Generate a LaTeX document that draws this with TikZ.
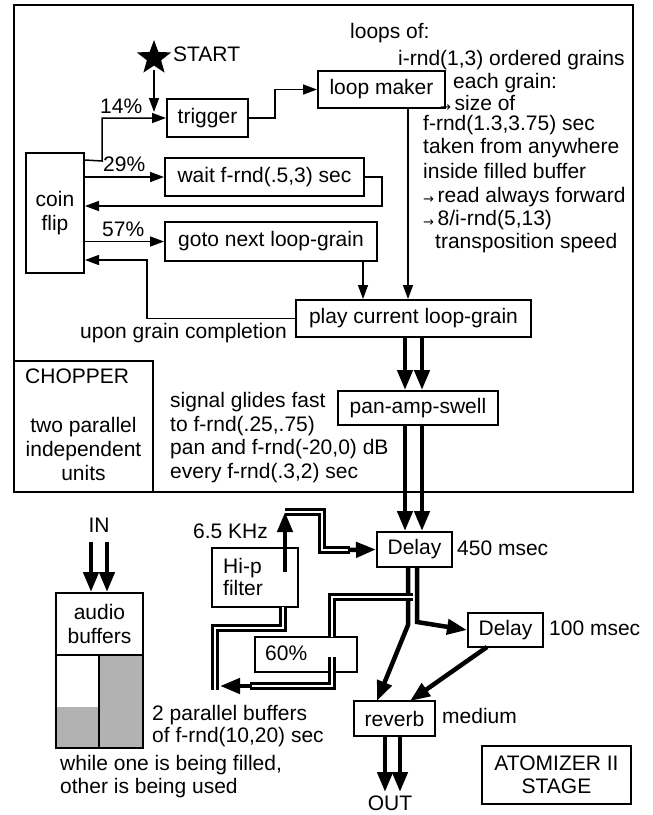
\documentclass[tikz,border=0pt]{standalone}
\usepackage{fontspec}
\setmainfont{Liberation Sans}
\newfontfamily\arrfont{DejaVu Sans}
\usetikzlibrary{arrows.meta,shapes.geometric,calc}
\newcommand\smallarr{\raisebox{-1.5pt}{\arrfont\fontsize{13}{13}\selectfont →}}
\definecolor{bufgray}{RGB}{178,178,178}
\begin{document}
\begin{tikzpicture}[x=1pt,y=-1pt,
  every node/.style={font=\fontsize{21}{23.5}\selectfont},
  box/.style={draw, line width=2pt, inner sep=0pt, align=center, fill=white},
  txt/.style={inner sep=0pt, anchor=west, text height=15pt, text depth=4.5pt},
  ctxt/.style={inner sep=0pt, text height=15pt, text depth=4.5pt},
  thinarr/.style={line width=1.5pt, -{Triangle[length=14pt,width=10pt]}},
  fat/.style={line width=4.5pt, -{Triangle[length=20pt,width=15pt]}},
  dbl/.style={double, line width=2.5pt, double distance=2.5pt, line join=miter},
]
\useasboundingbox (0,0) rectangle (653,815);
\fill[white] (0,0) rectangle (653,815);

% frames
\draw[line width=2.2pt] (14,5) rectangle (633,492);
\draw[line width=2.2pt] (14,361) rectangle (153,492);

% top boxes
\node[star, star points=5, star point ratio=2.4, fill, inner sep=0pt, minimum size=36pt] (star) at (154,58) {};
\node[box, minimum width=81pt, minimum height=38pt] (trigger) at (207.5,118) {trigger};
\node[box, minimum width=127pt, minimum height=37pt] (loop) at (381.5,89.5) {loop maker};
\node[box, minimum width=199pt, minimum height=38pt] (wait) at (264.5,177) {wait f-rnd(.5,3) sec};
\node[box, minimum width=212pt, minimum height=39pt] (goto) at (271,241.5) {goto next loop-grain};
\node[box, minimum width=58pt, minimum height=120pt] (coin) at (55,213) {coin\\flip};
\node[box, minimum width=235pt, minimum height=37pt] (play) at (413.5,318.5) {play current loop-grain};
\node[box, minimum width=160pt, minimum height=34pt] (pan) at (418,408) {pan-amp-swell};

% top connectors
\coordinate (startbeg) at (154,70);
\coordinate (startend) at (154,112);
\draw[thinarr] (startbeg) -- (startend);
\coordinate (c14) at ($(coin.north east)+(0,8)$);
\draw[thinarr] (c14) -- (102,161) |- (trigger.west);
\draw[thinarr] (coin.east |- wait.west) -- (wait.west);
\coordinate (wret) at (382,206);
\draw[thinarr] (wait.east) -| (wret) -- (coin.east |- wret);
\draw[thinarr] (coin.east |- goto.west) -- (goto.west);
\coordinate (pret) at (147,260);
\draw[thinarr] (play.west) -| (pret) -- (coin.east |- pret);
\coordinate (tl) at (275,118);
\draw[thinarr] (trigger.east) -- (tl) |- (loop.west);
\coordinate (g1) at (363,261);
\draw[thinarr] (g1) -- (g1 |- play.north);
\coordinate (l1) at (408,108);
\draw[thinarr] (l1) -- (l1 |- play.north);
\coordinate (s1) at (405,0);
\coordinate (s2) at (422,0);
\draw[fat] (play.south -| s1) -- (pan.north -| s1);
\draw[fat] (play.south -| s2) -- (pan.north -| s2);

% top texts
\node[txt] (tstart) at (173,56) {START};
\node[txt] (t14) at (100,108) {14\%};
\node[txt] (t29) at (103,166) {29\%};
\node[txt] (t57) at (102,231) {57\%};
\node[txt] (tl1) at (350,33) {loops of:};
\node[txt] (tl2) at (398,60) {i-rnd(1,3) ordered grains};
\node[txt] (tl3) at (453,83) {each grain:};
\node[txt] (tl4) at (440,105) {\smallarr\,size of};
\node[txt] (tl5) at (423,125) {f-rnd(1.3,3.75) sec};
\node[txt] (tl6) at (423,148) {taken from anywhere};
\node[txt] (tl7) at (423,173) {inside filled buffer};
\node[txt] (tl8) at (423,197) {\smallarr\,read always forward};
\node[txt] (tl9) at (423,220) {\smallarr\,8/i-rnd(5,13)};
\node[txt] (tl10) at (435,243) {transposition speed};
\node[txt, anchor=east] (tupon) at (287,333) {upon grain completion};
\node[txt] (tchop) at (25,378) {CHOPPER};
\node[ctxt] (tc1) at (83.5,427) {two parallel};
\node[ctxt] (tc2) at (83.5,451) {independent};
\node[ctxt] (tc3) at (83.5,475) {units};
\node[txt] (ts1) at (170,402) {signal glides fast};
\node[txt] (ts2) at (170,426) {to f-rnd(.25,.75)};
\node[txt] (ts3) at (170,449) {pan and f-rnd(-20,0) dB};
\node[txt] (ts4) at (170,473) {every f-rnd(.3,2) sec};

% bottom boxes
\node[box, minimum width=75pt, minimum height=35pt] (delay1) at (414.5,549.5) {Delay};
\node[box, minimum width=75pt, minimum height=34pt] (delay2) at (505.5,630) {Delay};
\node[box, minimum width=81pt, minimum height=35pt] (reverb) at (394.5,718.5) {reverb};
\node[box, minimum width=149pt, minimum height=58pt] (atom) at (556.5,775) {ATOMIZER II\\STAGE};
\node[box, minimum width=86pt, minimum height=59pt] (hipass) at (255,577.5) {};
\node[txt] (thp1) at (223,568) {Hi-p};
\node[txt] (thp2) at (223,590) {filter};
\node[box, minimum width=102pt, minimum height=35pt] (sixty) at (306,654.5) {};
\node[txt] (t60) at (265,655) {60\%};

% audio buffers
\node[box, minimum width=87pt, minimum height=62pt] (audio) at (99.5,624) {audio\\buffers};
\fill[white] (56,655) rectangle (143,748);
\fill[bufgray] (56,707) rectangle (99,748);
\fill[bufgray] (99,655) rectangle (143,748);
\draw[line width=2pt] (56,655) rectangle (143,748);
\draw[line width=2pt] (99,655) -- (99,748);

% fat connectors
\coordinate (inA) at (91,542);
\coordinate (inB) at (107,542);
\draw[fat] (inA) -- (inA |- audio.north);
\draw[fat] (inB) -- (inB |- audio.north);
\draw[fat] (pan.south -| s1) -- (delay1.north -| s1);
\draw[fat] (pan.south -| s2) -- (delay1.north -| s2);
\coordinate (d1a) at (408,567);
\coordinate (d1b) at (417,567);
\coordinate (rv1) at (377,701);
\coordinate (rv2) at (410,701);
\coordinate (d2s) at (487,647);
\draw[fat] (d1a) -- (408,625) -- (rv1);
\draw[fat] (d1b) -- (417,622) -- (delay2.west);
\draw[fat] (d2s) -- (rv2);
\coordinate (o1) at (385,0);
\coordinate (o2) at (400,0);
\coordinate (outA) at (385,792);
\coordinate (outB) at (400,792);
\draw[fat] (reverb.south -| o1) -- (outA);
\draw[fat] (reverb.south -| o2) -- (outB);

% double (feedback) lines
\coordinate (hpo) at (285,572);
\coordinate (hpt) at (285,512);
\draw[fat] (hpo) -- (hpt);
\coordinate (dl1) at (350,550);
\draw[dbl] (hpt) -- (322,512) -- (322,550) -- (dl1);
\draw[fat] ($(dl1)+(-2,0)$) -- (delay1.west);
\coordinate (fb1) at (413,597);
\draw[dbl] (fb1) -- (332,597) -- (332,637);
\coordinate (fb2) at (332,657);
\coordinate (fb3) at (250,686);
\coordinate (fb4) at (220,686);
\draw[dbl] (fb2) -- (332,686) -- (fb3);
\draw[fat] ($(fb3)+(2,0)$) -- (fb4);
\coordinate (hpin) at (283,607);
\draw[dbl] (215,690) -- (215,628) -- (283,628) -- (hpin);

% bottom texts
\node[ctxt] (tin) at (99,527) {IN};
\node[txt] (tkhz) at (193,533) {6.5 KHz};
\node[txt] (t450) at (457,550) {450 msec};
\node[txt] (t100) at (549,630) {100 msec};
\node[txt] (tmed) at (442,718) {medium};
\node[txt] (tb1) at (152,715) {2 parallel buffers};
\node[txt] (tb2) at (152,737) {of f-rnd(10,20) sec};
\node[txt] (tb3) at (60,765) {while one is being filled,};
\node[txt] (tb4) at (60,788) {other is being used};
\node[ctxt] (tout) at (390,805) {OUT};
\end{tikzpicture}
\end{document}
